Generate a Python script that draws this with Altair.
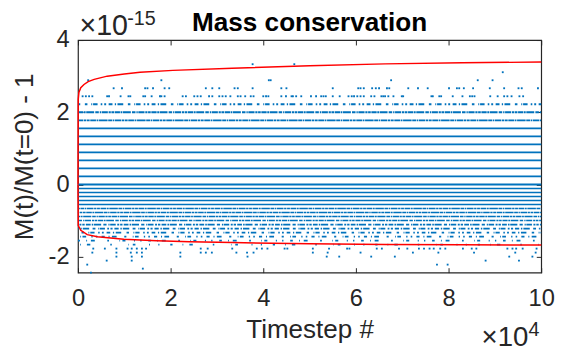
import altair as alt
import pandas as pd

FONT = "Liberation Sans"
BLUE = "#0072BD"
AXC = "#262626"

EPS = 0.2220446049250313          # machine epsilon, in units of 1e-15
Y_MIN = -22 * EPS / 2
Y_MAX = 4.0
T_MAX = 10.0                      # timesteps, in units of 1e4

x_ticks = [0, 2, 4, 6, 8, 10]
y_ticks = [-2, 0, 2, 4]

# rows of M(t)/M(0)-1 values: positive multiples of eps, negative multiples of eps/2
# with the fraction of timesteps that land on each row
pos_k = [0, 1, 2, 3, 4, 5, 6, 7, 8, 9, 10]
pos_cover = [1, 1, 1, 1, 1, 1, 1, 1, 0.95, 0.85, 0.5]
neg_n = [1, 2, 3, 4, 5, 6, 7, 8, 9, 10, 11, 12, 13, 14, 15]
neg_cover = [1, 1, 1, 1, 1, 0.95, 0.92, 0.88, 0.82, 0.72, 0.6, 0.45, 0.33, 0.2, 0.12]

# sparse rows: timesteps (x 1e4) of the individual points
pos_dots = {
    11: [0.10, 0.17, 0.24, 0.31, 0.63, 0.67, 0.92, 1.09, 1.13, 1.41, 1.45, 1.59, 1.77, 1.80,
         1.87, 2.26, 2.33, 2.51, 2.58, 2.65, 2.83, 2.90, 3.05, 3.12, 3.19, 3.29, 3.45, 3.51,
         3.61, 3.73, 3.79, 4.00, 4.06, 4.11, 4.39, 4.49, 4.61, 4.64, 4.71, 4.82, 5.03, 5.14,
         5.25, 5.30, 5.35, 5.50, 5.65, 5.84, 5.91, 5.96, 6.03, 6.10, 6.17, 6.33, 6.40, 6.55,
         6.59, 6.63, 6.70, 6.81, 6.99, 7.02, 7.63, 7.66, 7.80, 7.84, 8.09, 8.30, 8.46, 8.51,
         8.56, 8.90, 9.06, 9.20, 9.27, 9.36, 9.53, 9.61],
    12: [0.77, 0.95, 1.45, 1.50, 1.62, 1.87, 1.97, 2.76, 2.90, 3.05, 3.38, 3.45, 3.77, 4.39,
         4.50, 5.50, 6.05, 6.10, 6.17, 6.35, 6.43, 6.50, 6.67, 6.72, 7.13, 7.34, 7.55, 8.01,
         8.18, 8.23, 8.33, 8.53, 8.89, 9.20, 9.51, 9.58, 9.93],
    13: [0.22, 1.80, 4.12, 4.16, 6.76, 8.63, 8.95],
    14: [9.17],
    15: [3.77, 4.67],
}
neg_dots = {
    16: [0.33, 0.58, 0.83, 1.07, 1.16, 1.27, 1.38, 1.47, 2.65, 2.80, 3.33, 3.86, 3.97, 4.09,
         4.46, 4.52, 5.07, 5.42, 5.81, 5.86, 6.45, 6.56, 6.93, 7.11, 7.36, 7.47, 7.59, 7.68,
         7.82, 7.93, 8.31, 8.50, 8.60, 9.27, 9.38, 9.46, 9.60, 9.90],
    17: [0.31, 0.83, 1.14, 1.27, 1.38, 2.21, 2.65, 2.76, 2.89, 3.42, 3.65, 3.79, 5.07, 5.39,
         6.10, 7.23, 7.78, 8.55, 9.44, 9.88],
    18: [0.83, 1.16, 1.38, 2.21, 3.66, 5.37, 5.64, 6.33, 6.84, 9.31, 9.81],
    19: [0.62, 1.16, 8.80, 9.52],
    20: [0.20, 7.75, 7.98],
    21: [1.40],
    22: [0.28],
}

# red envelope curves
upper_t = [0, 0.005, 0.02, 0.06, 0.13, 0.22, 0.35, 0.63, 1.0, 1.34, 2.05, 3.33, 5.0, 6.63, 8.3, 10.0]
upper_v = [0, 2.35, 2.55, 2.68, 2.77, 2.85, 2.91, 3.00, 3.06, 3.11, 3.16, 3.22, 3.29, 3.34, 3.37, 3.39]
lower_t = [0, 0.006, 0.06, 0.2, 0.42, 0.99, 1.70, 2.41, 3.33, 5.0, 6.63, 8.3, 10.0]
lower_v = [0, -1.14, -1.27, -1.39, -1.45, -1.52, -1.56, -1.59, -1.61, -1.64, -1.66, -1.67, -1.68]

XS = alt.Scale(domain=[0, T_MAX], nice=False, zero=False)
YS = alt.Scale(domain=[Y_MIN, Y_MAX], nice=False, zero=False)

ON = [3, 6, 2, 9, 4, 1.5, 7, 2.5]
MUL = [1.3, 0.6, 1.1, 0.8, 1.5, 0.9, 0.7, 1.2]


def dash_for(c):
    s = 0.3 + 0.7 * c
    out = []
    for on, m in zip(ON, MUL):
        a = on * s
        out += [round(a, 2), round(max(a * (1 - c) / c * m, 0.6), 2)]
    return out


layers = []
rows = [(k * EPS, c, 1.9) for k, c in zip(pos_k, pos_cover)] + \
       [(-n * EPS / 2, c, 1.7) for n, c in zip(neg_n, neg_cover)]
for i, (v, c, w) in enumerate(rows):
    df = pd.DataFrame({"t0": [0.0], "t1": [T_MAX], "v": [v]})
    kw = dict(color=BLUE, strokeWidth=w)
    if c < 0.99:
        kw["strokeDash"] = dash_for(c)
        kw["strokeDashOffset"] = round((i * 13.7) % 40, 2)
    layers.append(
        alt.Chart(df).mark_rule(**kw).encode(
            x=alt.X("t0:Q", scale=XS, axis=None),
            x2="t1:Q",
            y=alt.Y("v:Q", scale=YS, axis=None),
        )
    )

dot_t, dot_v = [], []
for k, ts in pos_dots.items():
    dot_t += ts
    dot_v += [k * EPS] * len(ts)
for n, ts in neg_dots.items():
    dot_t += ts
    dot_v += [-n * EPS / 2] * len(ts)
dots_df = pd.DataFrame({"t": dot_t, "v": dot_v})
layers.append(
    alt.Chart(dots_df).mark_square(size=3.5, color=BLUE, opacity=1).encode(
        x=alt.X("t:Q", scale=XS, axis=None),
        y=alt.Y("v:Q", scale=YS, axis=None),
    )
)

env_df = pd.DataFrame({
    "curve": ["upper"] * len(upper_t) + ["lower"] * len(lower_t),
    "t": upper_t + lower_t,
    "v": upper_v + lower_v,
})
layers.append(
    alt.Chart(env_df).mark_line(color="#FF0000", strokeWidth=1.5).encode(
        x=alt.X("t:Q", scale=XS, axis=alt.Axis(
            orient="bottom", values=x_ticks, format="d", ticks=False, tickSize=0,
            domain=False, grid=False, labelFlush=False, labelPadding=14,
            title="Timestep #", titlePadding=7)),
        y=alt.Y("v:Q", scale=YS, axis=alt.Axis(
            orient="left", values=y_ticks, format="d", ticks=False, tickSize=0,
            domain=False, grid=False, labelFlush=False, labelPadding=9,
            title="M(t)/M(t=0) - 1", titlePadding=10,
            labelExpr="replace(datum.label, '\u2212', '-')")),
        detail="curve:N",
    )
)

# inward tick marks on all four sides
xt_df = pd.DataFrame({"t": x_ticks})
yt_df = pd.DataFrame({"v": y_ticks})
for orient in ["bottom", "top"]:
    layers.append(
        alt.Chart(xt_df).mark_point(opacity=0).encode(
            x=alt.X("t:Q", scale=XS, axis=alt.Axis(
                orient=orient, offset=-5, values=x_ticks, ticks=True, tickSize=5, tickWidth=1,
                tickColor=AXC, labels=False, domain=False, grid=False, title=None)),
        )
    )
for orient in ["left", "right"]:
    layers.append(
        alt.Chart(yt_df).mark_point(opacity=0).encode(
            y=alt.Y("v:Q", scale=YS, axis=alt.Axis(
                orient=orient, offset=-5, values=y_ticks, ticks=True, tickSize=5, tickWidth=1,
                tickColor=AXC, labels=False, domain=False, grid=False, title=None)),
        )
    )

one = pd.DataFrame({"a": [0]})


def note(text, xd, yd, dx, dy, size, align, weight="normal", color=AXC):
    return alt.Chart(one).mark_text(
        text=text, align=align, baseline="alphabetic", dx=dx, dy=dy,
        fontSize=size, font=FONT, color=color, fontWeight=weight,
    ).encode(
        x=alt.XDatum(xd, type="quantitative", scale=XS, axis=None),
        y=alt.YDatum(yd, type="quantitative", scale=YS, axis=None),
    )


layers.append(note("Mass conservation", T_MAX / 2, Y_MAX, 0, -9.5, 26.5, "center", "bold", "black"))
layers.append(note("\u00d710", 0, Y_MAX, 1.5, -5, 29, "left"))
layers.append(note("-15", 0, Y_MAX, 50, -15.5, 20, "left"))
layers.append(note("\u00d710", T_MAX, Y_MIN, -13, 74, 28, "right"))
layers.append(note("4", T_MAX, Y_MIN, -13, 64, 20, "left"))

chart = alt.layer(*layers).resolve_axis(
    x="independent", y="independent"
).properties(
    width=470,
    height=236,
    padding={"left": 71, "top": 30, "right": 14, "bottom": 77},
    autosize=alt.AutoSizeParams(type="none"),
).configure_view(
    stroke=AXC, strokeWidth=1.2
).configure_axis(
    labelFont=FONT, titleFont=FONT, labelFontSize=24, titleFontSize=26.4,
    labelColor=AXC, titleColor=AXC, titleFontWeight="normal",
)

chart.save("out.html", embed_options={"renderer": "svg", "actions": False})
